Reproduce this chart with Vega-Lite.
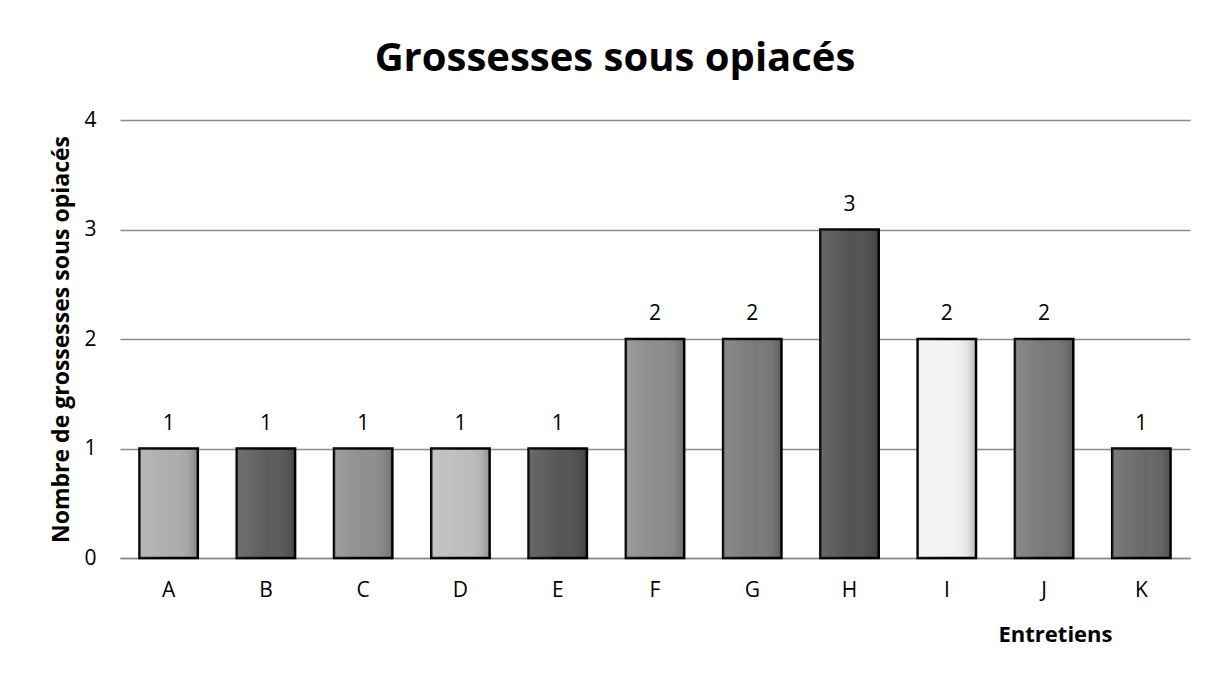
{
  "$schema": "https://vega.github.io/schema/vega-lite/v6.json",
  "width": 1070,
  "height": 438,
  "autosize": {"type": "none"},
  "padding": {"left": 120, "top": 120, "right": 31, "bottom": 117},
  "background": "white",
  "title": {
    "text": "Grossesses sous opiacés",
    "font": "Open Sans",
    "fontSize": 40,
    "fontWeight": "bold",
    "color": "#000000",
    "anchor": "middle",
    "offset": 30,
    "dx": -40
  },
  "config": {
    "view": {"stroke": null},
    "font": "Open Sans"
  },
  "data": {
    "values": [
      {"entretien": "A", "n": 1},
      {"entretien": "B", "n": 1},
      {"entretien": "C", "n": 1},
      {"entretien": "D", "n": 1},
      {"entretien": "E", "n": 1},
      {"entretien": "F", "n": 2},
      {"entretien": "G", "n": 2},
      {"entretien": "H", "n": 3},
      {"entretien": "I", "n": 2},
      {"entretien": "J", "n": 2},
      {"entretien": "K", "n": 1}
    ]
  },
  "encoding": {
    "x": {
      "field": "entretien",
      "type": "nominal",
      "sort": null,
      "scale": {"paddingInner": 0.4, "paddingOuter": 0.2},
      "axis": {
        "title": "Entretiens",
        "titleFont": "Open Sans",
        "titleFontSize": 22,
        "titleFontWeight": "bold",
        "titleColor": "#000000",
        "titleX": 992,
        "titleY": 66,
        "titleAlign": "right",
        "titleBaseline": "top",
        "labelAngle": 0,
        "labelFont": "Open Sans",
        "labelFontSize": 21,
        "labelColor": "#000000",
        "labelPadding": 21,
        "ticks": false,
        "domainColor": "#8a8a8a",
        "domainWidth": 1.5,
        "grid": false
      }
    },
    "y": {
      "field": "n",
      "type": "quantitative",
      "scale": {"domain": [0, 4]},
      "axis": {
        "title": "Nombre de grossesses sous opiacés",
        "titleFont": "Open Sans",
        "titleFontSize": 23,
        "titleFontWeight": "bold",
        "titleColor": "#000000",
        "titlePadding": 10,
        "values": [0, 1, 2, 3, 4],
        "labelFont": "Open Sans",
        "labelFontSize": 21,
        "labelColor": "#000000",
        "labelPadding": 24,
        "ticks": false,
        "domain": false,
        "grid": true,
        "gridColor": "#8a8a8a",
        "gridWidth": 1.5
      }
    }
  },
  "layer": [
    {
      "mark": {"type": "bar", "stroke": "#000000", "strokeWidth": 2.5},
      "encoding": {
        "color": {
          "field": "entretien",
          "type": "nominal",
          "scale": {
            "domain": ["A", "B", "C", "D", "E", "F", "G", "H", "I", "J", "K"],
            "range": ["#adadad", "#5c5c5c", "#8f8f8f", "#bdbdbd", "#555555", "#8c8c8c", "#7a7a7a", "#535353", "#f2f2f2", "#787878", "#696969"]
          },
          "legend": null
        }
      }
    },
    {
      "mark": {
        "type": "bar",
        "strokeWidth": 0,
        "fill": {
          "x1": 0, "y1": 0, "x2": 1, "y2": 0,
          "gradient": "linear",
          "stops": [
            {"offset": 0, "color": "rgba(255,255,255,0.12)"},
            {"offset": 0.55, "color": "rgba(255,255,255,0)"},
            {"offset": 0.85, "color": "rgba(0,0,0,0.06)"},
            {"offset": 1, "color": "rgba(0,0,0,0.22)"}
          ]
        }
      },
      "encoding": {}
    },
    {
      "mark": {"type": "text", "baseline": "bottom", "dy": -15, "fontSize": 21, "font": "Open Sans", "color": "#000000"},
      "encoding": {
        "text": {"field": "n", "type": "quantitative"}
      }
    }
  ]
}
